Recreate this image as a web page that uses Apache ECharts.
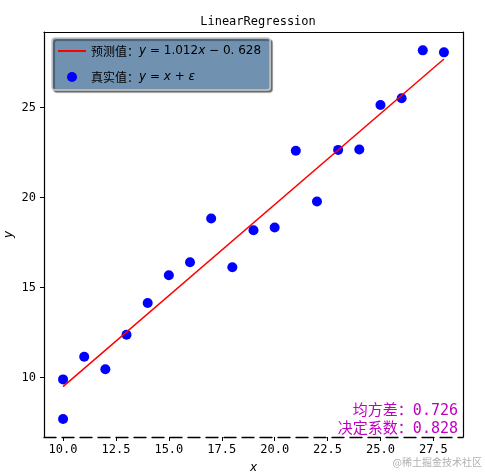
<!DOCTYPE html>
<html>
<head>
<meta charset="utf-8">
<script src="https://cdn.jsdelivr.net/npm/echarts@6/dist/echarts.min.js"></script>
<style>
  html, body { margin: 0; padding: 0; background: #fff; }
  #main { width: 485px; height: 473px; }
</style>
</head>
<body>
<div id="main"></div>
<script>
// 真实值 (scatter)
var xTrue = [10, 10, 11, 12, 13, 14, 15, 16, 17, 18, 19, 20, 21, 22, 23, 24, 25, 26, 27, 28];
var yTrue = [9.9, 7.7, 11.16, 10.46, 12.38, 14.14, 15.69, 16.41, 18.84, 16.13, 18.19, 18.34, 22.6, 19.78, 22.65, 22.67, 25.14, 25.52, 28.18, 28.07];
// 预测值 (regression line end points)
var xPred = [10, 28];
var yPred = [9.5, 27.7];
var xTicks = [10, 12.5, 15, 17.5, 20, 22.5, 25, 27.5];
var yTicks = [10, 15, 20, 25];
var scoreLines = ['均方差：0.726', '决定系数：0.828'];

var FONT = '"DejaVu Sans Mono", "Noto Sans CJK SC", monospace';

var scatterData = xTrue.map(function (x, i) { return [x, yTrue[i]]; });
var lineData = xPred.map(function (x, i) { return [x, yPred[i]]; });

var chart = echarts.init(document.getElementById('main'));
var option = {
    backgroundColor: '#fff',
    animation: false,
    title: {
        text: 'LinearRegression',
        left: 253,
        textAlign: 'center',
        top: 11,
        textStyle: { fontFamily: FONT, fontSize: 12, fontWeight: 'normal', color: '#000' }
    },
    legend: {
        orient: 'vertical',
        left: 52,
        top: 38,
        padding: [5, 9, 5, 5],
        itemGap: 10,
        itemWidth: 28,
        itemHeight: 10,
        backgroundColor: '#7091af',
        borderColor: '#c8c8c8',
        borderWidth: 1.5,
        borderRadius: 3,
        shadowColor: 'rgba(0,0,0,0.45)',
        shadowOffsetX: 2,
        shadowOffsetY: 2,
        shadowBlur: 1,
        data: [
            { name: '预测值', itemStyle: { opacity: 0 }, lineStyle: { width: 2 } },
            { name: '真实值', icon: 'circle' }
        ],
        formatter: function (name) {
            if (name === '预测值') {
                return '预测值：{i|y}{n| = 1.012}{i|x}{n| − 0. 628}';
            }
            return '真实值：{i|y}{n| = }{i|x}{n| + }{i|ε}';
        },
        textStyle: {
            fontFamily: '"Noto Sans CJK SC", sans-serif',
            fontSize: 12,
            color: '#000',
            lineHeight: 16,
            rich: {
                i: { fontFamily: '"DejaVu Sans"', fontStyle: 'italic', fontSize: 12, color: '#000' },
                n: { fontFamily: '"DejaVu Sans"', fontSize: 12, color: '#000' }
            }
        }
    },
    grid: { left: 44, right: 22, top: 32, bottom: 36, containLabel: false, outerBoundsMode: 'none' },
    xAxis: [{
        type: 'value',
        min: 9.1,
        max: 28.9,
        name: 'x',
        nameLocation: 'middle',
        nameGap: 25,
        nameMoveOverlap: false,
        nameTextStyle: { fontFamily: '"DejaVu Sans"', fontStyle: 'italic', fontSize: 12, color: '#000' },
        splitLine: { show: false },
        axisLine: { lineStyle: { color: '#000', width: 1.3, type: [12, 6] } },
        axisTick: { show: true, customValues: xTicks, length: 4, lineStyle: { color: '#000' } },
        axisLabel: {
            customValues: xTicks,
            fontFamily: FONT,
            fontSize: 12,
            color: '#000',
            margin: 7,
            formatter: function (v) { return v.toFixed(1); }
        }
    }, {
        type: 'value',
        position: 'top',
        min: 9.1,
        max: 28.9,
        splitLine: { show: false },
        axisLine: { show: true, lineStyle: { color: '#000', width: 1.2 } },
        axisTick: { show: false },
        axisLabel: { show: false }
    }],
    yAxis: [{
        type: 'value',
        min: 6.7,
        max: 29.2,
        name: 'y',
        nameLocation: 'middle',
        nameGap: 29,
        nameMoveOverlap: false,
        nameRotate: 90,
        nameTextStyle: { fontFamily: '"DejaVu Sans"', fontStyle: 'italic', fontSize: 12, color: '#000' },
        splitLine: { show: false },
        axisLine: { show: true, lineStyle: { color: '#000', width: 1.2 } },
        axisTick: { show: true, customValues: yTicks, length: 4, lineStyle: { color: '#000' } },
        axisLabel: {
            customValues: yTicks,
            fontFamily: FONT,
            fontSize: 12,
            color: '#000',
            margin: 8
        }
    }, {
        type: 'value',
        position: 'right',
        min: 6.7,
        max: 29.2,
        splitLine: { show: false },
        axisLine: { show: true, lineStyle: { color: '#000', width: 1.2 } },
        axisTick: { show: false },
        axisLabel: { show: false }
    }],
    series: [{
        name: '预测值',
        type: 'line',
        data: lineData,
        symbol: 'none',
        lineStyle: { color: '#ff0000', width: 1.5 },
        itemStyle: { color: '#ff0000' },
        z: 3
    }, {
        name: '真实值',
        type: 'scatter',
        data: scatterData,
        symbolSize: 10,
        itemStyle: { color: '#0000ff', opacity: 1 },
        z: 2
    }],
    graphic: [{
        type: 'text',
        right: 27,
        top: 404,
        style: { text: scoreLines[0], fontFamily: FONT, fontSize: 15, fill: '#bf00bf' }
    }, {
        type: 'text',
        right: 27,
        top: 422,
        style: { text: scoreLines[1], fontFamily: FONT, fontSize: 15, fill: '#bf00bf' }
    }, {
        type: 'text',
        right: 3,
        top: 457,
        style: {
            text: '@稀土掘金技术社区',
            fontFamily: '"Noto Sans CJK SC", sans-serif',
            fontSize: 10,
            fill: '#b0b0b0'
        }
    }]
};
chart.setOption(option);
</script>
</body>
</html>
